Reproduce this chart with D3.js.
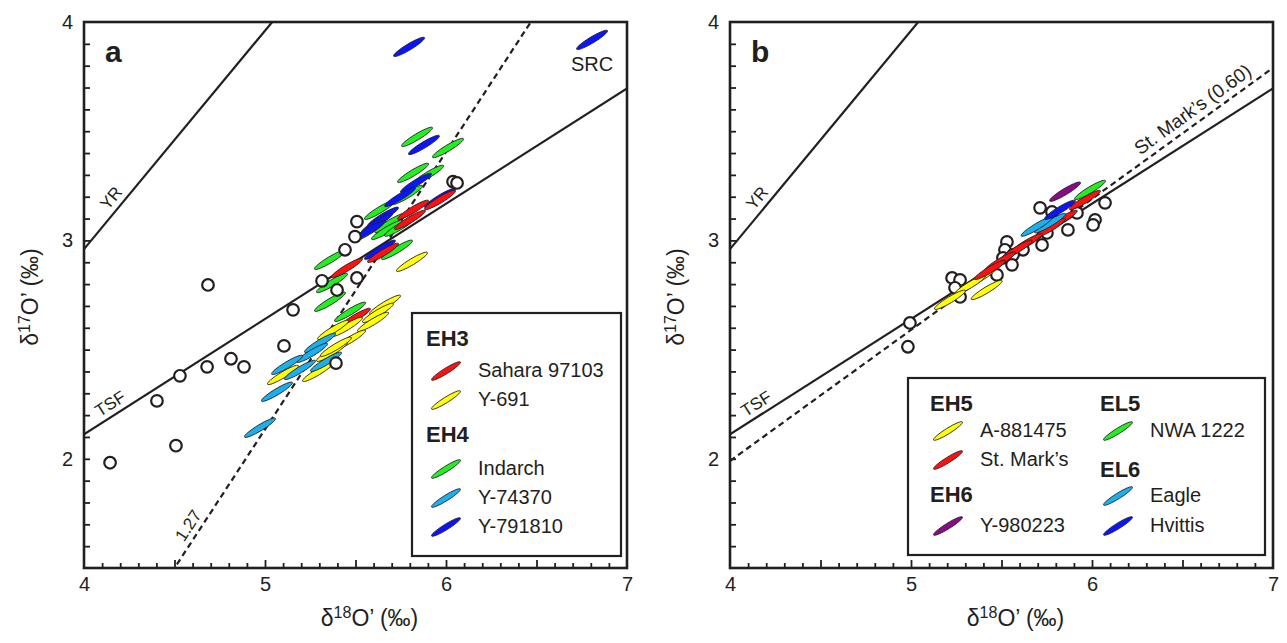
<!DOCTYPE html>
<html>
<head>
<meta charset="utf-8">
<script src="https://cdn.jsdelivr.net/npm/d3@7"></script>
<style>
body{margin:0;background:#fff;}
text{font-family:"Liberation Sans",Arial,sans-serif;fill:#231f20;}
</style>
</head>
<body>
<svg id="chart" width="1287" height="643"></svg>
<script>
// each point is [d18O', d17O'] in permil

// panel a - EH3
var sahara97103 = [[5.967,3.185],[5.818,3.140],[5.801,3.094],[5.652,2.943],[5.453,2.874],[5.497,2.645]];
var y691 = [[5.812,2.902],[5.663,2.705],[5.624,2.668],[5.597,2.627],[5.453,2.604],[5.376,2.590],
            [5.470,2.545],[5.370,2.490],[5.392,2.513],[5.293,2.398],[5.099,2.384]];
// panel a - EH4
var indarch = [[5.840,3.474],[6.011,3.423],[5.818,3.309],[5.901,3.300],[5.785,3.208],[5.635,3.140],
               [5.691,3.080],[5.674,3.048],[5.746,3.063],[5.569,3.039],[5.729,2.957],[5.359,2.911],
               [5.370,2.805],[5.359,2.719],[5.470,2.673]];
var y74370 = [[5.304,2.531],[5.260,2.485],[5.337,2.444],[5.193,2.407],[5.122,2.430],[5.066,2.307],[4.972,2.142]];
var y791810 = [[5.796,3.886],[6.807,3.918],[5.878,3.437],[5.834,3.263],[5.746,3.199],[5.967,3.194],
               [5.652,3.108],[5.619,3.080],[5.580,3.048],[5.635,2.957]];
// panel a - literature data (open circles)
var litA = [[4.144,1.982],[4.403,2.265],[4.530,2.380],[4.508,2.060],[4.685,2.796],[4.680,2.421],
            [4.812,2.458],[4.884,2.421],[5.105,2.517],[5.155,2.682],[5.315,2.815],[5.392,2.438],
            [5.508,3.086],[5.497,3.017],[5.442,2.957],[5.398,2.773],[5.508,2.828],[6.039,3.269],[6.061,3.263]];

// panel b - EH5
var a881475 = [[5.381,2.827],[5.326,2.796],[5.418,2.773],[5.215,2.728]];
var stMarks = [[5.961,3.185],[5.833,3.094],[5.768,3.056],[5.639,2.987],[5.584,2.957],[5.492,2.903],[5.436,2.865]];
// panel b - EH6
var y980223 = [[5.851,3.223]];
// panel b - EL5
var nwa1222 = [[5.989,3.231]];
// panel b - EL6
var eagle = [[5.768,3.079],[5.694,3.063]];
var hvittis = [[5.823,3.140]];
// panel b - literature data
var litB = [[5.713,3.149],[5.779,3.130],[5.917,3.126],[6.072,3.172],[6.017,3.094],[6.006,3.071],
            [5.867,3.048],[5.751,3.034],[5.724,2.979],[5.619,2.957],[5.530,2.993],[5.519,2.957],
            [5.564,2.934],[5.508,2.920],[5.558,2.888],[5.475,2.842],[5.227,2.828],[5.271,2.819],
            [5.243,2.783],[5.271,2.741],[4.994,2.622],[4.983,2.513]];

var xTicks = [4,5,6,7];
var yTicks = [2,3,4];

var colRed="#ff1010", colYellow="#ffff00", colGreen="#22ee22", colCyan="#1ab0ee", colBlue="#0a14ff", colPurple="#8a0a8a";
var ink = "#231f20";

var svg = d3.select("#chart");

function drawPanel(opt){
    var x = d3.scaleLinear().domain([4,7]).range([opt.left, opt.left+543]);
    var y = d3.scaleLinear().domain([1.5,4]).range([568,22]);
    var g = svg.append("g");

    var clipId = "clip"+opt.letter;
    svg.append("clipPath").attr("id",clipId).append("rect")
        .attr("x",x(4)).attr("y",y(4)).attr("width",x(7)-x(4)).attr("height",y(1.5)-y(4));
    var plot = g.append("g").attr("clip-path","url(#"+clipId+")");

    // reference lines
    opt.lines.forEach(function(l){
        plot.append("line")
            .attr("x1",x(4)).attr("y1",y(l.f(4)))
            .attr("x2",x(7)).attr("y2",y(l.f(7)))
            .attr("stroke",ink).attr("stroke-width",2.2)
            .attr("stroke-dasharray",l.dash ? "6,4" : null);
    });

    // angle of the ellipses (along a mass-dependent slope)
    var ang = -Math.atan((y(0)-y(0.5))/(x(1)-x(0)))*180/Math.PI;

    function circles(){
        plot.selectAll(null).data(opt.lit).enter().append("circle")
            .attr("cx",d=>x(d[0])).attr("cy",d=>y(d[1])).attr("r",5.8)
            .attr("fill","#fff").attr("stroke",ink).attr("stroke-width",2.2);
    }
    if(!opt.circlesOnTop) circles();

    opt.series.forEach(function(s){
        plot.selectAll(null).data(s.data).enter().append("ellipse")
            .attr("transform",d=>"translate("+x(d[0])+","+y(d[1])+") rotate("+ang+")")
            .attr("rx",18).attr("ry",3.1)
            .attr("fill",s.color).attr("stroke",ink).attr("stroke-width",0.8);
    });
    if(opt.circlesOnTop) circles();

    // line labels
    opt.labels.forEach(function(l){
        var px = x(l.x), py = y(l.line ? l.line(l.x) : l.y);
        var a = l.line ? -Math.atan((y(0)-y(l.line(1)-l.line(0)))/(x(1)-x(0)))*180/Math.PI : 0;
        g.append("text")
            .attr("transform","translate("+px+","+py+") rotate("+a+")")
            .attr("y",l.dy).attr("text-anchor","middle")
            .style("font-size",l.size+"px").text(l.text);
    });

    // frame
    g.append("rect").attr("x",x(4)).attr("y",y(4)).attr("width",x(7)-x(4)).attr("height",y(1.5)-y(4))
        .attr("fill","none").attr("stroke",ink).attr("stroke-width",2.6);

    // axes
    var minorX = d3.range(41,70).map(d=>d/10).filter(d=>Math.round(d*10)%5!==0);
    var halfX = [4.5,5,5.5,6,6.5];
    var minorY = d3.range(16,40).map(d=>d/10);
    var axB = g.append("g").attr("transform","translate(0,"+y(1.5)+")");
    axB.call(d3.axisBottom(x).tickValues(minorX).tickSize(-5).tickFormat(""));
    axB.append("g").call(d3.axisBottom(x).tickValues(halfX).tickSize(-8).tickFormat(""));
    axB.append("g").call(d3.axisBottom(x).tickValues(xTicks).tickSize(0).tickPadding(9).tickFormat(d3.format("d")));
    var axL = g.append("g").attr("transform","translate("+x(4)+",0)");
    axL.call(d3.axisLeft(y).tickValues(minorY).tickSize(-6).tickFormat(""));
    axL.append("g").call(d3.axisLeft(y).tickValues(yTicks).tickSize(0).tickPadding(11).tickFormat(d3.format("d")));
    g.selectAll(".domain").remove();
    g.selectAll(".tick line").attr("stroke",ink).attr("stroke-width",1.8);
    g.selectAll(".tick text").style("font-size","20px").attr("fill",ink)
        .style("font-family","'Liberation Sans',Arial,sans-serif");

    // axis titles
    var xt = g.append("text").attr("x",(x(4)+x(7))/2+14).attr("y",626).attr("text-anchor","middle").style("font-size","23px");
    xt.append("tspan").text("\u03b4");
    xt.append("tspan").attr("dy",-8).style("font-size","16px").text("18");
    xt.append("tspan").attr("dy",8).text("O\u2019 (\u2030)");
    var yt = g.append("text").attr("transform","translate("+(x(4)-46)+",297) rotate(-90)").attr("text-anchor","middle").style("font-size","23px");
    yt.append("tspan").text("\u03b4");
    yt.append("tspan").attr("dy",-8).style("font-size","16px").text("17");
    yt.append("tspan").attr("dy",8).text("O\u2019 (\u2030)");

    // panel letter
    g.append("text").attr("x",x(4)+21).attr("y",62).style("font-size","30px").style("font-weight","bold").text(opt.letter);

    // legend
    var lg = g.append("g").attr("transform","translate("+opt.legend.x+","+opt.legend.y+")");
    lg.append("rect").attr("width",opt.legend.w).attr("height",opt.legend.h)
        .attr("fill","#fff").attr("stroke",ink).attr("stroke-width",2.2);
    opt.legend.items.forEach(function(it){
        if(it.head){
            lg.append("text").attr("x",it.x).attr("y",it.y).style("font-size","22px").style("font-weight","bold").text(it.head);
        } else {
            lg.append("ellipse").attr("transform","translate("+(it.x+18)+","+(it.y-6)+") rotate(-32)")
                .attr("rx",17).attr("ry",2.8).attr("fill",it.color).attr("stroke",ink).attr("stroke-width",0.8);
            lg.append("text").attr("x",it.x+50).attr("y",it.y).style("font-size","20px").text(it.name);
        }
    });
}

var tsf = d=>0.528*d, yr = d=>d-1.04;

drawPanel({
    left:84, letter:"a", circlesOnTop:true, lit:litA,
    lines:[{f:tsf},{f:yr},{f:d=>1.27*d-4.215, dash:true}],
    series:[{data:indarch,color:colGreen},{data:y791810,color:colBlue},{data:sahara97103,color:colRed},
            {data:y691,color:colYellow},{data:y74370,color:colCyan}],
    labels:[{text:"YR",x:4.2,line:yr,dy:-6,size:17},
            {text:"TSF",x:4.18,line:tsf,dy:-6,size:17},
            {text:"1.27",x:4.63,line:d=>1.27*d-4.215,dy:-6,size:17},
            {text:"SRC",x:6.807,y:3.918,dy:31,size:20}],
    legend:{x:412,y:313,w:209,h:243,items:[
        {head:"EH3",x:14,y:33},
        {name:"Sahara 97103",color:colRed,x:16,y:64},
        {name:"Y-691",color:colYellow,x:16,y:93},
        {head:"EH4",x:14,y:129},
        {name:"Indarch",color:colGreen,x:16,y:162},
        {name:"Y-74370",color:colCyan,x:16,y:191},
        {name:"Y-791810",color:colBlue,x:16,y:220}]}
});

drawPanel({
    left:730, letter:"b", circlesOnTop:false, lit:litB,
    lines:[{f:tsf},{f:yr},{f:d=>0.6*d-0.41, dash:true}],
    series:[{data:a881475,color:colYellow},{data:stMarks,color:colRed},{data:y980223,color:colPurple},
            {data:nwa1222,color:colGreen},{data:eagle,color:colCyan},{data:hvittis,color:colBlue}],
    labels:[{text:"YR",x:4.2,line:yr,dy:-6,size:17},
            {text:"TSF",x:4.18,line:tsf,dy:-6,size:17},
            {text:"St. Mark\u2019s (0.60)",x:6.6,line:d=>0.6*d-0.41,dy:-7,size:19}],
    legend:{x:908,y:378,w:357,h:177,items:[
        {head:"EH5",x:22,y:33},
        {name:"A-881475",color:colYellow,x:22,y:59},
        {name:"St. Mark\u2019s",color:colRed,x:22,y:88},
        {head:"EH6",x:22,y:124},
        {name:"Y-980223",color:colPurple,x:22,y:154},
        {head:"EL5",x:192,y:33},
        {name:"NWA 1222",color:colGreen,x:192,y:59},
        {head:"EL6",x:192,y:99},
        {name:"Eagle",color:colCyan,x:192,y:124},
        {name:"Hvittis",color:colBlue,x:192,y:154}]}
});
</script>
</body>
</html>
